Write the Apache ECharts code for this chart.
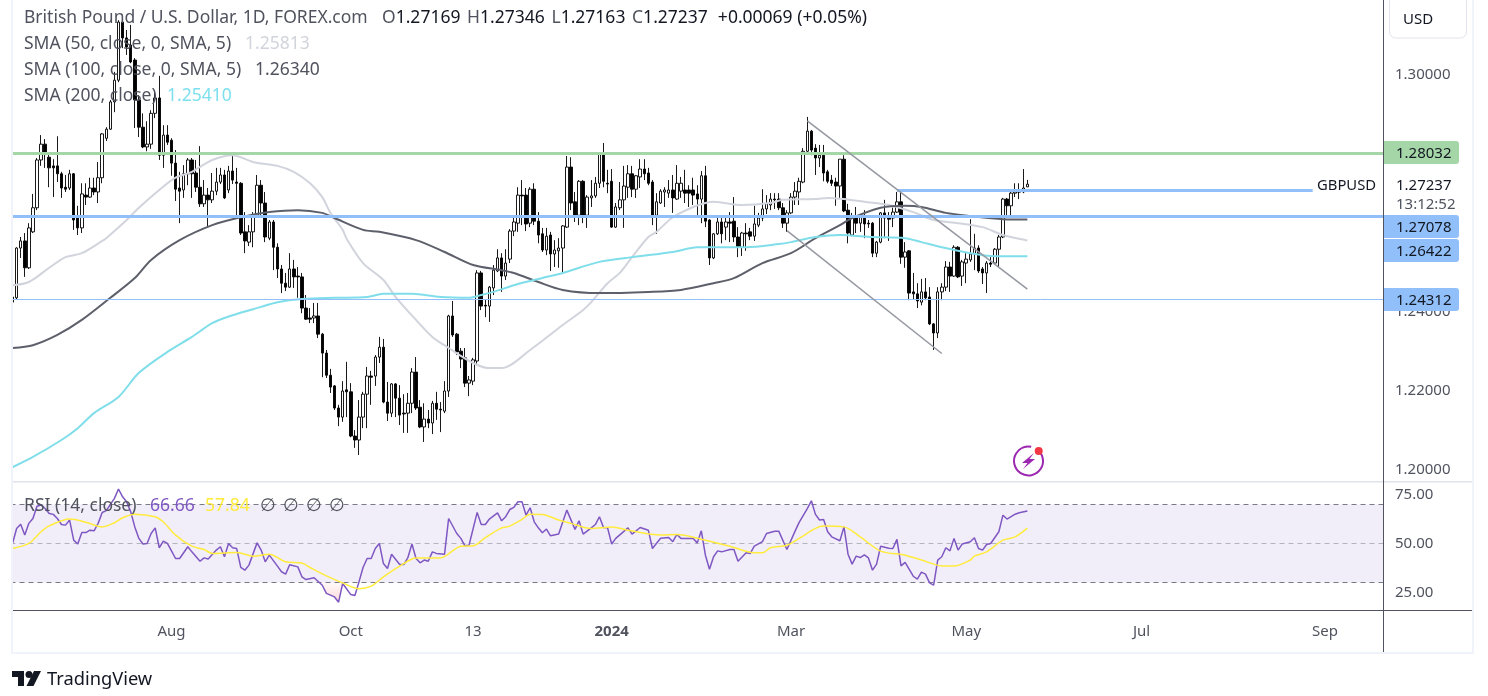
<!DOCTYPE html>
<html>
<head>
<meta charset="utf-8">
<title>GBPUSD</title>
<script src="https://cdn.jsdelivr.net/npm/echarts@6/dist/echarts.min.js"></script>
<style>
html,body{margin:0;padding:0;background:#fff;}
#main{width:1488px;height:696px;}
</style>
</head>
<body>
<div id="main"></div>
<script>
var barCount = 337;

var opens = [
1.2425,1.2436,1.2562,1.2580,1.2512,1.2603,1.2664,1.2785,1.2825,1.2792,
1.2770,1.2770,1.2750,1.2716,1.2714,1.2750,1.2638,1.2613,1.2696,1.2691,
1.2714,1.2704,1.2740,1.2840,1.2863,1.2932,1.2987,1.3134,1.3094,1.3076,
1.3038,1.2937,1.2868,1.2818,1.2825,1.2903,1.2942,1.2797,1.2848,1.2835,
1.2777,1.2714,1.2709,1.2750,1.2785,1.2752,1.2716,1.2674,1.2696,1.2684,
1.2706,1.2729,1.2747,1.2709,1.2757,1.2729,1.2726,1.2603,1.2577,1.2603,
1.2645,1.2721,1.2676,1.2587,1.2628,1.2564,1.2509,1.2473,1.2463,1.2509,
1.2491,1.2489,1.2410,1.2385,1.2385,1.2390,1.2344,1.2296,1.2240,1.2213,
1.2157,1.2134,1.2203,1.2198,1.2086,1.2076,1.2134,1.2192,1.2238,1.2238,
1.2286,1.2311,1.2172,1.2144,1.2218,1.2182,1.2144,1.2144,1.2169,1.2248,
1.2159,1.2109,1.2129,1.2119,1.2169,1.2154,1.2149,1.2200,1.2390,1.2344,
1.2301,1.2284,1.2220,1.2225,1.2276,1.2499,1.2417,1.2415,1.2461,1.2504,
1.2537,1.2491,1.2534,1.2605,1.2625,1.2696,1.2696,1.2625,1.2711,1.2630,
1.2598,1.2557,1.2595,1.2547,1.2555,1.2562,1.2615,1.2767,1.2679,1.2645,
1.2731,1.2645,1.2689,1.2694,1.2726,1.2800,1.2726,1.2731,1.2615,1.2664,
1.2684,1.2716,1.2750,1.2711,1.2742,1.2762,1.2752,1.2729,1.2645,1.2676,
1.2704,1.2701,1.2709,1.2686,1.2706,1.2709,1.2709,1.2709,1.2699,1.2686,
1.2745,1.2633,1.2537,1.2598,1.2628,1.2615,1.2628,1.2630,1.2590,1.2564,
1.2600,1.2603,1.2592,1.2620,1.2638,1.2661,1.2671,1.2686,1.2686,1.2664,
1.2625,1.2651,1.2691,1.2704,1.2729,1.2807,1.2858,1.2815,1.2790,1.2797,
1.2755,1.2734,1.2729,1.2719,1.2787,1.2658,1.2595,1.2640,1.2625,1.2640,
1.2625,1.2625,1.2549,1.2577,1.2651,1.2638,1.2638,1.2653,1.2679,1.2539,
1.2555,1.2451,1.2446,1.2425,1.2451,1.2438,1.2370,1.2347,1.2451,1.2463,
1.2514,1.2491,1.2564,1.2491,1.2524,1.2532,1.2547,1.2562,1.2509,1.2499,
1.2524,1.2524,1.2559,1.2590,1.2686,1.2669,1.2701,1.2704,1.2704,1.27169
];
var closes = [
1.2438,1.2562,1.2580,1.2512,1.2613,1.2664,1.2785,1.2825,1.2802,1.2765,
1.2765,1.2750,1.2714,1.2711,1.2750,1.2633,1.2613,1.2699,1.2691,1.2714,
1.2704,1.2740,1.2851,1.2863,1.2932,1.2987,1.3134,1.3094,1.3071,1.3033,
1.2937,1.2868,1.2818,1.2825,1.2903,1.2942,1.2797,1.2848,1.2830,1.2777,
1.2711,1.2706,1.2750,1.2785,1.2750,1.2716,1.2674,1.2696,1.2684,1.2706,
1.2729,1.2747,1.2689,1.2757,1.2734,1.2726,1.2600,1.2580,1.2603,1.2645,
1.2721,1.2676,1.2590,1.2628,1.2564,1.2509,1.2473,1.2463,1.2509,1.2489,
1.2489,1.2410,1.2382,1.2382,1.2390,1.2344,1.2296,1.2240,1.2210,1.2157,
1.2134,1.2200,1.2198,1.2086,1.2076,1.2134,1.2192,1.2238,1.2235,1.2286,
1.2311,1.2172,1.2144,1.2218,1.2182,1.2139,1.2142,1.2169,1.2248,1.2157,
1.2109,1.2129,1.2119,1.2169,1.2154,1.2152,1.2200,1.2390,1.2342,1.2299,
1.2281,1.2220,1.2228,1.2279,1.2499,1.2415,1.2415,1.2463,1.2506,1.2537,
1.2491,1.2524,1.2605,1.2628,1.2696,1.2694,1.2623,1.2711,1.2630,1.2595,
1.2557,1.2592,1.2547,1.2557,1.2562,1.2618,1.2767,1.2676,1.2645,1.2731,
1.2645,1.2691,1.2694,1.2726,1.2800,1.2731,1.2724,1.2615,1.2666,1.2684,
1.2719,1.2750,1.2711,1.2745,1.2762,1.2750,1.2726,1.2645,1.2679,1.2706,
1.2709,1.2709,1.2689,1.2726,1.2726,1.2701,1.2701,1.2696,1.2686,1.2745,
1.2630,1.2537,1.2598,1.2628,1.2598,1.2628,1.2625,1.2590,1.2564,1.2600,
1.2598,1.2592,1.2623,1.2638,1.2661,1.2674,1.2686,1.2684,1.2664,1.2625,
1.2651,1.2691,1.2706,1.2731,1.2807,1.2858,1.2810,1.2790,1.2797,1.2752,
1.2731,1.2726,1.2719,1.2787,1.2656,1.2600,1.2643,1.2625,1.2640,1.2623,
1.2623,1.2549,1.2577,1.2651,1.2638,1.2635,1.2653,1.2679,1.2539,1.2552,
1.2448,1.2446,1.2428,1.2451,1.2436,1.2370,1.2347,1.2451,1.2463,1.2514,
1.2491,1.2564,1.2489,1.2527,1.2534,1.2547,1.2562,1.2504,1.2499,1.2524,
1.2521,1.2559,1.2590,1.2686,1.2669,1.2701,1.2704,1.2704,1.2714,1.27237
];
var highs = [
1.2501,1.2564,1.2590,1.2600,1.2625,1.2699,1.2790,1.2848,1.2838,1.2805,
1.2787,1.2845,1.2755,1.2747,1.2760,1.2752,1.2669,1.2726,1.2726,1.2740,
1.2740,1.2780,1.2853,1.2868,1.2937,1.3008,1.3139,1.3144,1.3114,1.3127,
1.3043,1.2949,1.2903,1.2883,1.2911,1.2962,1.2998,1.2873,1.2873,1.2840,
1.2810,1.2755,1.2772,1.2790,1.2790,1.2785,1.2820,1.2734,1.2714,1.2752,
1.2765,1.2765,1.2760,1.2770,1.2800,1.2765,1.2729,1.2653,1.2620,1.2653,
1.2747,1.2734,1.2704,1.2633,1.2633,1.2574,1.2519,1.2499,1.2549,1.2532,
1.2514,1.2499,1.2443,1.2410,1.2423,1.2423,1.2347,1.2304,1.2256,1.2215,
1.2165,1.2225,1.2274,1.2220,1.2101,1.2177,1.2198,1.2261,1.2251,1.2291,
1.2337,1.2332,1.2223,1.2220,1.2220,1.2215,1.2192,1.2195,1.2258,1.2286,
1.2177,1.2169,1.2152,1.2175,1.2198,1.2172,1.2225,1.2393,1.2428,1.2347,
1.2309,1.2309,1.2238,1.2284,1.2506,1.2504,1.2433,1.2466,1.2519,1.2559,
1.2549,1.2559,1.2610,1.2640,1.2716,1.2734,1.2714,1.2716,1.2726,1.2653,
1.2613,1.2613,1.2603,1.2582,1.2587,1.2620,1.2795,1.2792,1.2704,1.2734,
1.2734,1.2696,1.2734,1.2742,1.2802,1.2828,1.2760,1.2762,1.2676,1.2729,
1.2770,1.2772,1.2770,1.2747,1.2787,1.2787,1.2765,1.2734,1.2701,1.2711,
1.2716,1.2734,1.2747,1.2772,1.2742,1.2760,1.2721,1.2740,1.2721,1.2757,
1.2770,1.2635,1.2600,1.2638,1.2638,1.2640,1.2653,1.2691,1.2615,1.2603,
1.2625,1.2613,1.2669,1.2651,1.2711,1.2696,1.2701,1.2701,1.2701,1.2676,
1.2658,1.2701,1.2729,1.2740,1.2815,1.2894,1.2861,1.2825,1.2823,1.2823,
1.2760,1.2747,1.2740,1.2787,1.2797,1.2674,1.2651,1.2666,1.2643,1.2658,
1.2633,1.2628,1.2580,1.2653,1.2684,1.2653,1.2664,1.2704,1.2704,1.2577,
1.2557,1.2499,1.2473,1.2484,1.2486,1.2463,1.2372,1.2463,1.2473,1.2529,
1.2527,1.2569,1.2567,1.2532,1.2549,1.2635,1.2598,1.2569,1.2514,1.2529,
1.2539,1.2562,1.2595,1.2689,1.2689,1.2706,1.2726,1.2726,1.2762,1.27346
];
var lows = [
1.2397,1.2433,1.2537,1.2489,1.2509,1.2600,1.2658,1.2770,1.2765,1.2716,
1.2691,1.2729,1.2689,1.2704,1.2709,1.2608,1.2595,1.2600,1.2671,1.2689,
1.2696,1.2676,1.2726,1.2833,1.2861,1.2906,1.2982,1.3068,1.3051,1.3030,
1.2866,1.2843,1.2815,1.2807,1.2813,1.2891,1.2785,1.2765,1.2823,1.2745,
1.2681,1.2625,1.2689,1.2721,1.2689,1.2704,1.2666,1.2666,1.2615,1.2676,
1.2696,1.2724,1.2686,1.2701,1.2724,1.2638,1.2595,1.2549,1.2567,1.2564,
1.2640,1.2645,1.2577,1.2582,1.2506,1.2486,1.2448,1.2453,1.2461,1.2461,
1.2436,1.2397,1.2380,1.2372,1.2372,1.2334,1.2235,1.2233,1.2195,1.2152,
1.2111,1.2122,1.2134,1.2083,1.2056,1.2038,1.2106,1.2106,1.2165,1.2213,
1.2271,1.2169,1.2124,1.2134,1.2134,1.2114,1.2094,1.2094,1.2144,1.2152,
1.2106,1.2071,1.2106,1.2091,1.2127,1.2096,1.2144,1.2185,1.2337,1.2291,
1.2258,1.2210,1.2187,1.2215,1.2266,1.2405,1.2387,1.2375,1.2443,1.2501,
1.2451,1.2481,1.2524,1.2592,1.2603,1.2620,1.2605,1.2615,1.2620,1.2574,
1.2552,1.2544,1.2504,1.2514,1.2512,1.2501,1.2613,1.2658,1.2628,1.2620,
1.2625,1.2613,1.2666,1.2689,1.2714,1.2716,1.2701,1.2613,1.2613,1.2658,
1.2613,1.2689,1.2691,1.2689,1.2714,1.2734,1.2721,1.2620,1.2598,1.2674,
1.2666,1.2689,1.2651,1.2684,1.2689,1.2676,1.2666,1.2671,1.2640,1.2625,
1.2615,1.2519,1.2534,1.2595,1.2574,1.2582,1.2577,1.2577,1.2539,1.2542,
1.2555,1.2582,1.2580,1.2615,1.2630,1.2648,1.2658,1.2661,1.2658,1.2613,
1.2603,1.2648,1.2671,1.2671,1.2726,1.2805,1.2797,1.2747,1.2767,1.2731,
1.2726,1.2719,1.2669,1.2689,1.2653,1.2574,1.2592,1.2600,1.2603,1.2587,
1.2613,1.2539,1.2539,1.2574,1.2587,1.2580,1.2615,1.2651,1.2522,1.2512,
1.2430,1.2433,1.2410,1.2417,1.2430,1.2367,1.2304,1.2334,1.2430,1.2453,
1.2451,1.2489,1.2486,1.2466,1.2473,1.2527,1.2506,1.2499,1.2471,1.2448,
1.2514,1.2521,1.2514,1.2587,1.2645,1.2645,1.2691,1.2686,1.2701,1.27163
];

var sma50Bars = [0,4,9,13,17,22,23,28,31,36,40,44,49,54,59,65,69,73,76,78,81,82,86,91,94,99,103,107,113,117,120,127,135,140,142,146,149,152,156,158,162,167,170,172,179,186,189,197,200,204,209,215,221,226,232,238,243,249];
var sma50Values = [1.2468,1.2476,1.2512,1.2539,1.2549,1.2580,1.2587,1.2633,1.2664,1.2709,1.2740,1.2755,1.2785,1.2797,1.2780,1.2770,1.2755,1.2726,1.2691,1.2651,1.2608,1.2585,1.2524,1.2481,1.2438,1.2380,1.2337,1.2309,1.2271,1.2258,1.2258,1.2304,1.2367,1.2405,1.2425,1.2473,1.2499,1.2539,1.2590,1.2603,1.2640,1.2666,1.2676,1.2679,1.2671,1.2676,1.2684,1.2686,1.2689,1.2686,1.2679,1.2671,1.2653,1.2633,1.2625,1.2615,1.2595,1.25813];
var sma100Bars = [0,5,11,17,24,30,34,41,49,56,63,70,76,79,86,90,99,106,113,120,123,129,135,144,156,164,172,177,184,191,197,203,206,213,219,223,229,235,243,249];
var sma100Values = [1.2309,1.2316,1.2342,1.2380,1.2436,1.2486,1.2532,1.2582,1.2620,1.2640,1.2653,1.2658,1.2651,1.2638,1.2608,1.2603,1.2582,1.2552,1.2519,1.2506,1.2499,1.2476,1.2456,1.2448,1.2451,1.2456,1.2473,1.2486,1.2524,1.2549,1.2587,1.2620,1.2638,1.2664,1.2669,1.2666,1.2651,1.2643,1.2635,1.2634];
var sma200Bars = [0,5,12,16,20,26,31,38,44,49,54,61,65,71,79,87,91,98,105,112,115,118,123,130,135,144,152,162,168,180,188,191,197,203,211,219,223,228,235,240,249];
var sma200Values = [1.2007,1.2033,1.2076,1.2106,1.2144,1.2185,1.2246,1.2299,1.2337,1.2372,1.2392,1.2413,1.2425,1.2433,1.2436,1.2438,1.2446,1.2446,1.2438,1.2436,1.2443,1.2451,1.2468,1.2486,1.2499,1.2527,1.2539,1.2552,1.2564,1.2564,1.2572,1.2577,1.2590,1.2595,1.2590,1.2587,1.2577,1.2564,1.2549,1.2542,1.2541];

var rsiBars = [0,1,2,3,4,5,6,7,8,9,10,11,12,13,14,15,16,17,18,19,20,21,22,23,25,26,27,28,29,30,31,32,33,34,35,36,37,38,39,40,41,43,44,46,47,48,50,51,52,53,54,55,56,57,58,60,61,62,63,65,66,67,68,70,71,72,74,76,77,79,80,81,83,84,85,86,87,88,89,90,91,92,93,95,96,97,98,99,100,101,102,103,104,106,107,109,110,111,112,114,115,116,117,119,120,121,122,123,124,125,126,127,128,129,130,131,132,134,136,138,139,140,142,143,144,145,146,147,148,151,152,154,156,157,159,161,162,163,164,167,168,169,170,171,172,173,174,176,177,178,180,181,182,184,185,187,188,190,192,193,195,196,197,198,199,200,201,203,204,205,206,207,208,209,210,211,212,213,215,216,217,218,219,221,222,223,224,225,226,227,228,229,230,231,232,233,235,236,237,238,239,240,242,243,244,246,247,249];
var rsiValues = [50,57.7,59.9,54.3,60.3,62.8,69.1,69.7,67.9,65.4,64.9,62.8,59.7,59.4,62,51.7,49.7,55.6,55.6,56.8,56.5,60.3,65.9,66.8,73.1,77.9,73.9,71.4,66.2,58.5,52.6,49.7,50,55.1,58,47.8,51.2,50,46.2,42.3,42.3,48.3,45.7,40.9,42.6,42,46.6,48.3,43.2,50,47.8,47.4,37.7,36.3,38.9,50.3,46.6,40.6,44,38.4,35.5,34.3,39.1,38,32.9,31.5,32.4,28.6,24.4,22.6,19.9,29.5,23.8,23.3,30.3,37.7,42.3,42.3,47.4,50,39.7,37.2,44.5,39.2,39.2,42.8,49.7,42.3,40.1,41.5,40.9,45.7,44.9,44.5,62.8,55.1,52.6,48.8,49.1,65.9,59.7,59.7,62.5,65.7,61.6,63.7,67.4,68.5,71.4,71.4,64.5,68.3,61.1,58,55.5,57.4,53.9,54.8,67.1,57.2,61.6,54.8,58,59.7,63.7,58.2,58,49.7,52.6,58,54.8,58.2,56.8,47.4,52.7,53.1,50.9,54.6,52.6,52.6,50.3,56.5,44,36.8,43.2,46.2,45.7,46.9,46.9,40.9,45.2,44.9,48.6,50.9,55.1,56.3,56.3,46.9,56.3,60.8,67.9,71.9,64.9,62,62.3,56,53.4,51.4,58.5,44.5,39.4,43.5,42.8,44.2,42.6,36.3,39.4,48.6,47.6,47.4,52.1,38.5,40.3,33.2,31.7,35.3,34.3,29.8,28.6,41.5,43.2,47.8,46.2,52.6,46.6,49.7,50.9,52.9,47.4,46.6,49.5,50,56,64.5,62.5,65,65.7,66.66];
var rsiMaBars = [0,4,7,9,14,18,22,25,27,30,35,37,40,44,47,49,55,59,63,67,71,73,77,81,85,88,91,95,99,105,110,113,116,120,122,125,127,130,134,137,142,147,151,159,163,169,176,182,184,186,190,193,197,199,204,208,213,219,223,228,231,235,236,239,243,246,249];
var rsiMaValues = [47.4,50,56,59,62.5,60.9,58.5,60.6,63.2,65,63.7,61,54.3,48.6,46.9,44.9,45.4,43.5,44.5,40.6,40,37.7,33.4,29.8,26.8,28.1,32.9,38.4,42.6,42.6,48.6,48.8,53,58,58.9,62.3,65,64.9,62,60.3,57.7,58.5,56.8,54.3,54.6,52.2,48.6,45.2,45.2,47.8,49.1,52.6,57.7,58.9,58.5,53.4,46.1,44,41.5,38.5,38.4,41.5,43.5,45.7,51.7,53.4,57.84];
var oversoldBars = [75,76,77,79,80,81];
var oversoldValues = [30,28.6,24.4,22.6,19.9,30];

var priceTicks = [1.2,1.22,1.24,1.26,1.28,1.3];
var rsiTicks = [25,50,75];
var tickBars = [39,83,113,147,191,234,277,322];
var tickLabels = ['Aug','Oct','13','2024','Mar','May','Jul','Sep'];

var greenLevel = 1.28032;
var blueLevel = 1.26422;
var thinLevel = 1.24312;
var shortLevel = 1.27078;

var fontName = '"Noto Sans", sans-serif';
var textGray = '#50535e';
var legendFont = '17.5px ' + fontName;

function pairs(xs, ys){
	var out = [];
	for(var i = 0; i < xs.length; i++){
		out.push([xs[i], ys[i]]);
	}
	return out;
}

var categories = [];
for(var d = 0; d < barCount; d++){
	categories.push(d);
}

var candles = [];
for(var k = 0; k < opens.length; k++){
	candles.push([opens[k], closes[k], lows[k], highs[k]]);
}

function smaSeries(name, xs, ys, color){
	return {
		name: name,
		type: 'line',
		xAxisIndex: 0,
		yAxisIndex: 0,
		data: pairs(xs, ys),
		showSymbol: false,
		silent: true,
		smooth: 0.3,
		z: 3,
		lineStyle: {color: color, width: 2}
	};
}

function labelTag(y, text, color){
	return {
		type: 'group',
		z: 60,
		children: [
			{type: 'rect', shape: {x: 1384, y: y, width: 75, height: 23, r: [0, 3, 3, 0]}, style: {fill: color}, z: 60},
			{type: 'text', x: 1396, y: y + 12.5, z: 61, style: {text: text, font: '15px ' + fontName, fill: '#131722', verticalAlign: 'middle'}}
		]
	};
}

function legendText(x, y, text, color, font){
	return {
		type: 'text', x: x, y: y, z: 70,
		style: {text: text, font: font || legendFont, fill: color, verticalAlign: 'middle'}
	};
}

var frame = [
	{type: 'rect', z: 55, shape: {x: 0, y: 0, width: 11, height: 696}, style: {fill: '#fff'}},
	{type: 'rect', z: 56, shape: {x: 11, y: 0, width: 2, height: 654}, style: {fill: '#f0f3fa'}},
	{type: 'rect', z: 56, shape: {x: 1472, y: 0, width: 2, height: 654}, style: {fill: '#f0f3fa'}},
	{type: 'rect', z: 56, shape: {x: 11, y: 652, width: 1463, height: 2}, style: {fill: '#f0f3fa'}},
	{type: 'rect', z: 56, shape: {x: 13, y: 481, width: 1459, height: 1.5}, style: {fill: '#e0e3eb'}},
	{type: 'rect', z: 56, shape: {x: 13, y: 610, width: 1459, height: 1}, style: {fill: textGray}},
	{type: 'rect', z: 56, shape: {x: 1383, y: 0, width: 1, height: 652}, style: {fill: textGray}}
];

var axisFont = '15px ' + fontName;

var usdButton = [
	{type: 'rect', z: 60, shape: {x: 1389.5, y: -4, width: 77, height: 42, r: 6}, style: {fill: '#fff', stroke: '#e0e3eb', lineWidth: 1}},
	legendText(1403, 20, 'USD', '#131722', axisFont)
];

var lastPrice = [
	{type: 'rect', z: 58, shape: {x: 1385, y: 172, width: 87, height: 43}, style: {fill: '#fff'}},
	legendText(1396, 186, '1.27237', '#131722', axisFont),
	legendText(1396, 205, '13:12:52', textGray, axisFont),
	legendText(1317, 186, 'GBPUSD', '#131722', '14.8px ' + fontName)
];

var tags = [
	labelTag(141, '1.28032', '#a5d6a7'),
	labelTag(215, '1.27078', '#90bff9'),
	labelTag(239, '1.26422', '#90bff9'),
	labelTag(288, '1.24312', '#90bff9')
];

var headline = [
	legendText(24, 18, 'British Pound / U.S. Dollar, 1D, FOREX.com', textGray),
	{
		type: 'text', x: 382, y: 18, z: 70,
		style: {
			text: '{g|O}{d|1.27169}  {g|H}{d|1.27346}  {g|L}{d|1.27163}  {g|C}{d|1.27237}   {d|+0.00069 (+0.05%)}',
			verticalAlign: 'middle',
			rich: {
				g: {font: legendFont, fill: textGray},
				d: {font: legendFont, fill: '#131722'}
			}
		}
	},
	legendText(24, 44, 'SMA (50, close, 0, SMA, 5)', textGray),
	legendText(245, 44, '1.25813', '#d1d4dc'),
	legendText(24, 70, 'SMA (100, close, 0, SMA, 5)', textGray),
	legendText(255, 70, '1.26340', textGray),
	legendText(24, 96, 'SMA (200, close)', textGray),
	legendText(167, 96, '1.25410', '#7ee0ee'),
	legendText(24, 506, 'RSI (14, close)', textGray),
	legendText(150, 506, '66.66', '#7e57c2'),
	legendText(205, 506, '57.84', '#ffeb3b'),
	legendText(260, 506, '∅', textGray),
	legendText(283, 506, '∅', textGray),
	legendText(306, 506, '∅', textGray),
	legendText(329, 506, '∅', textGray)
];

var flashIcon = [
	{type: 'arc', z: 60, shape: {cx: 1028.5, cy: 461, r: 14.5, startAngle: -1.0, endAngle: 4.9}, style: {fill: 'none', stroke: '#9c27b0', lineWidth: 2}},
	{type: 'polygon', z: 60, shape: {points: [[1034, 453], [1022, 463], [1027.5, 463], [1023, 469], [1035, 459], [1029.5, 459]]}, style: {fill: '#9c27b0'}},
	{type: 'circle', z: 61, shape: {cx: 1038.7, cy: 451, r: 4}, style: {fill: '#f23645'}}
];

var logo = [
	{type: 'polygon', z: 60, shape: {points: [[12, 671], [24, 671], [24, 686], [18, 686], [18, 677], [12, 677]]}, style: {fill: '#131722'}},
	{type: 'circle', z: 60, shape: {cx: 29, cy: 674.5, r: 3.5}, style: {fill: '#131722'}},
	{type: 'polygon', z: 60, shape: {points: [[34, 671], [41, 671], [33.5, 686], [26.5, 686]]}, style: {fill: '#131722'}},
	legendText(47, 680, 'TradingView', '#131722', '18.3px ' + fontName)
];

var myChart = echarts.init(document.getElementById('main'), null, {renderer: 'canvas'});

var option = {
	animation: false,
	backgroundColor: '#fff',
	grid: [
		{left: 10.5, width: 1373.5, top: 0, height: 481},
		{left: 10.5, width: 1373.5, top: 482, height: 128}
	],
	xAxis: [
		{
			type: 'category', gridIndex: 0, data: categories, show: false
		},
		{
			type: 'category', gridIndex: 1, data: categories,
			axisLine: {show: false},
			axisTick: {show: false},
			splitLine: {show: false},
			axisLabel: {
				color: textGray,
				fontFamily: fontName,
				fontSize: 15,
				margin: 14,
				hideOverlap: false,
				interval: function(index){
					return tickBars.indexOf(index) >= 0;
				},
				formatter: function(value, index){
					var label = tickLabels[tickBars.indexOf(index)];
					return label == '2024' ? '{b|2024}' : label;
				},
				rich: {b: {fontWeight: 'bold', fontSize: 15, fontFamily: fontName, color: textGray}}
			}
		}
	],
	yAxis: [
		{
			type: 'value', gridIndex: 0, position: 'right', scale: true,
			min: 1.19722, max: 1.319,
			axisLine: {show: false},
			axisTick: {show: false},
			splitLine: {show: false},
			axisLabel: {
				customValues: priceTicks,
				margin: 11,
				color: textGray,
				fontFamily: fontName,
				fontSize: 15,
				padding: [3, 0, 0, 0],
				formatter: function(v){
					return v.toFixed(5);
				}
			}
		},
		{
			type: 'value', gridIndex: 1, position: 'right', scale: true,
			min: 15.9, max: 81.5,
			axisLine: {show: false},
			axisTick: {show: false},
			splitLine: {show: false},
			axisLabel: {
				customValues: rsiTicks,
				margin: 11,
				color: textGray,
				fontFamily: fontName,
				fontSize: 15,
				padding: [2, 0, 0, 0],
				formatter: function(v){
					return v.toFixed(2);
				}
			}
		}
	],
	series: [
		{
			name: 'GBPUSD',
			type: 'candlestick',
			xAxisIndex: 0,
			yAxisIndex: 0,
			data: candles,
			barWidth: 3,
			silent: true,
			z: 2,
			itemStyle: {
				color: '#ffffff',
				color0: '#000000',
				borderColor: '#000000',
				borderColor0: '#000000',
				borderWidth: 0.9
			},
			markLine: {
				silent: true,
				symbol: 'none',
				precision: 5,
				label: {show: false},
				animation: false,
				z: 5,
				data: [
					{yAxis: greenLevel, lineStyle: {color: '#a5d6a7', width: 3, type: 'solid'}},
					{yAxis: blueLevel, lineStyle: {color: '#90bff9', width: 3, type: 'solid'}},
					{yAxis: thinLevel, lineStyle: {color: '#90bff9', width: 1, type: 'solid'}},
					[
						{xAxis: 217, yAxis: shortLevel, lineStyle: {color: '#90bff9', width: 3, type: 'solid'}},
						{xAxis: 319, yAxis: shortLevel}
					],
					[
						{xAxis: 195, yAxis: 1.2884, lineStyle: {color: '#9598a1', width: 1.5, type: 'solid'}},
						{xAxis: 249, yAxis: 1.2458}
					],
					[
						{xAxis: 190, yAxis: 1.2606, lineStyle: {color: '#9598a1', width: 1.5, type: 'solid'}},
						{xAxis: 228, yAxis: 1.2295}
					]
				]
			}
		},
		smaSeries('SMA 50', sma50Bars, sma50Values, '#d1d4dc'),
		smaSeries('SMA 100', sma100Bars, sma100Values, '#5d606b'),
		smaSeries('SMA 200', sma200Bars, sma200Values, '#80deea'),
		{
			name: 'Oversold',
			type: 'line',
			xAxisIndex: 1,
			yAxisIndex: 1,
			data: pairs(oversoldBars, oversoldValues),
			showSymbol: false,
			silent: true,
			z: 2,
			lineStyle: {width: 0},
			areaStyle: {
				origin: 30,
				color: new echarts.graphic.LinearGradient(0, 0, 0, 1, [
					{offset: 0, color: 'rgba(255,82,82,0.05)'},
					{offset: 1, color: 'rgba(255,82,82,0.3)'}
				])
			}
		},
		{
			name: 'RSI',
			type: 'line',
			xAxisIndex: 1,
			yAxisIndex: 1,
			data: pairs(rsiBars, rsiValues),
			showSymbol: false,
			silent: true,
			z: 4,
			lineStyle: {color: '#7e57c2', width: 1.5},
			markArea: {
				silent: true,
				z: 1,
				itemStyle: {color: 'rgba(126,87,194,0.1)'},
				data: [[{yAxis: 30}, {yAxis: 70}]]
			},
			markLine: {
				silent: true,
				symbol: 'none',
				label: {show: false},
				animation: false,
				z: 2,
				data: [
					{yAxis: 70, lineStyle: {color: '#787b86', width: 1, type: [5, 4]}},
					{yAxis: 50, lineStyle: {color: '#b2b5be', width: 1, type: [5, 4]}},
					{yAxis: 30, lineStyle: {color: '#787b86', width: 1, type: [5, 4]}}
				]
			}
		},
		{
			name: 'RSI MA',
			type: 'line',
			xAxisIndex: 1,
			yAxisIndex: 1,
			data: pairs(rsiMaBars, rsiMaValues),
			showSymbol: false,
			silent: true,
			smooth: 0.3,
			z: 5,
			lineStyle: {color: '#ffeb3b', width: 1.5}
		}
	],
	graphic: {
		elements: frame.concat(usdButton, lastPrice, tags, headline, flashIcon, logo)
	}
};

myChart.setOption(option);
</script>
</body>
</html>
